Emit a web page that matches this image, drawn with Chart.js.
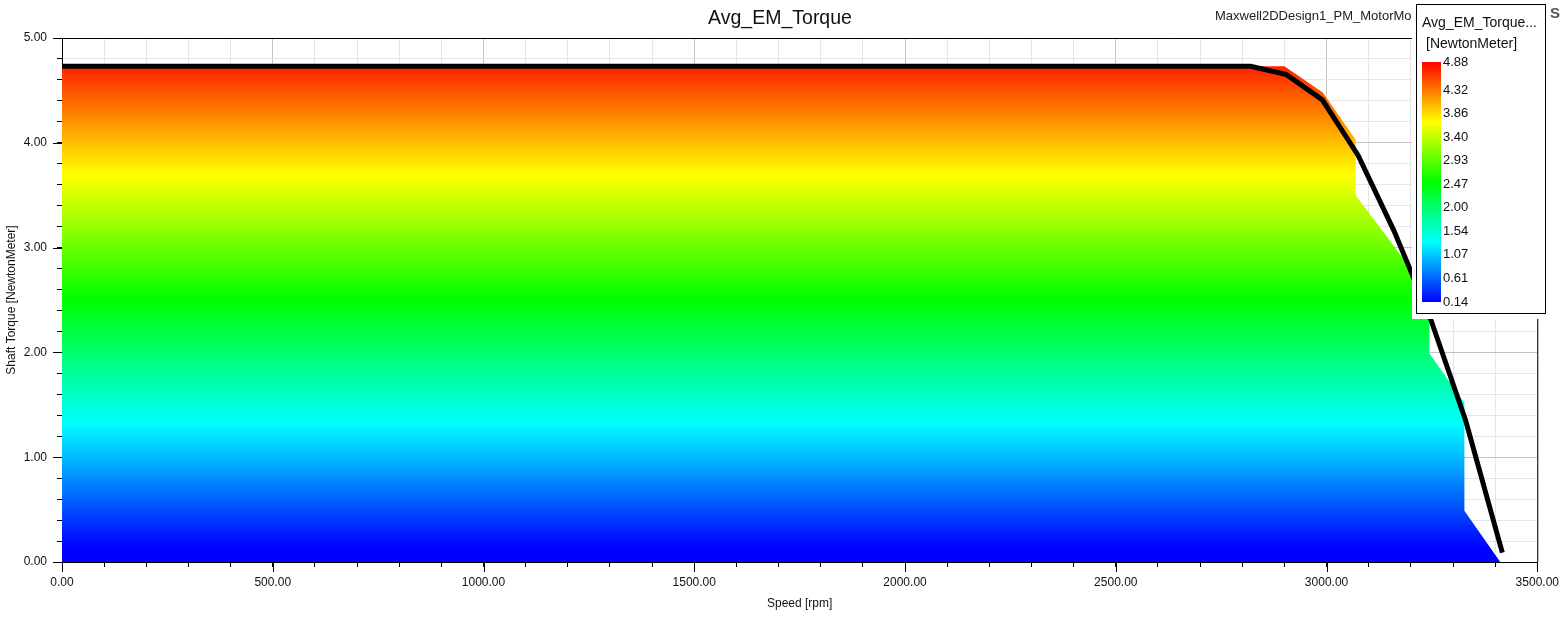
<!DOCTYPE html>
<html>
<head>
<meta charset="utf-8">
<script src="https://cdn.jsdelivr.net/npm/chart.js@4"></script>
<style>
  html, body { margin: 0; padding: 0; background: #fff; }
  #wrap { width: 1567px; height: 619px; }
</style>
</head>
<body>
<div id="wrap"><canvas id="torque-graph" width="1567" height="619"></canvas></div>
<script>
// torque/speed curve (black line)
const curveSpeed = [0, 2820, 2905, 2990, 3075, 3160, 3245, 3330, 3417];
const curveTorque = [4.73, 4.73, 4.65, 4.41, 3.88, 3.16, 2.34, 1.35, 0.09];

// contour fill outline (coloured area)
const fillSpeed = [0, 2900, 2991, 3069, 3069, 3185, 3244, 3244, 3327, 3327, 3412];
const fillTorque = [4.73, 4.73, 4.48, 4.03, 3.50, 2.88, 2.36, 1.99, 1.52, 0.49, 0.0];

// colour bar
const legendTicks = [4.88, 4.32, 3.86, 3.40, 2.93, 2.47, 2.00, 1.54, 1.07, 0.61, 0.14];
const legendMin = 0.14;
const legendMax = 4.88;
const rainbow = ['#0000ff', '#00ffff', '#00ff00', '#ffff00', '#ff0000'];

const FONT = "'Liberation Sans', Arial, sans-serif";

function toPoints(xs, ys) {
  return xs.map((x, i) => ({ x: x, y: ys[i] }));
}

function isWhole(v, step) {
  const r = v / step;
  return Math.abs(r - Math.round(r)) < 1e-6;
}

function contourFill(context) {
  const chart = context.chart;
  const area = chart.chartArea;
  if (!area) return 'rgba(0,0,0,0)';
  const y = chart.scales.y;
  const top = y.getPixelForValue(legendMax);
  const bottom = y.getPixelForValue(legendMin);
  const g = chart.ctx.createLinearGradient(0, bottom, 0, top);
  rainbow.forEach((c, i) => g.addColorStop(i / (rainbow.length - 1), c));
  return g;
}

const frame = {
  id: 'frame',
  afterDraw(chart) {
    const ctx = chart.ctx;
    const a = chart.chartArea;
    const xs = chart.scales.x;
    const ys = chart.scales.y;
    ctx.save();
    ctx.strokeStyle = '#000';
    ctx.lineWidth = 1;
    // top and right border
    ctx.beginPath();
    ctx.moveTo(a.left, a.top + 0.5);
    ctx.lineTo(a.right + 0.5, a.top + 0.5);
    ctx.lineTo(a.right + 0.5, a.bottom);
    ctx.stroke();
    // longer major ticks
    ctx.beginPath();
    xs.ticks.forEach(t => {
      if (!isWhole(t.value, 500)) return;
      const px = Math.round(xs.getPixelForValue(t.value)) + 0.5;
      ctx.moveTo(px, a.bottom);
      ctx.lineTo(px, a.bottom + 10);
    });
    ys.ticks.forEach(t => {
      if (!isWhole(t.value, 1)) return;
      const py = Math.round(ys.getPixelForValue(t.value)) + 0.5;
      ctx.moveTo(a.left - 9, py);
      ctx.lineTo(a.left, py);
    });
    ctx.stroke();

    // subtitle, partly hidden under the colour bar box
    ctx.fillStyle = '#222';
    ctx.font = '13px ' + FONT;
    ctx.textBaseline = 'middle';
    ctx.textAlign = 'left';
    ctx.fillText('Maxwell2DDesign1_PM_MotorModel', 1215, 16);

    // colour bar box
    ctx.fillStyle = '#fff';
    ctx.fillRect(1412, 0, 137, 319);
    ctx.strokeRect(1416.5, 4.5, 129, 309);

    ctx.fillStyle = '#111';
    ctx.font = '14px ' + FONT;
    ctx.fillText('Avg_EM_Torque...', 1422, 23);
    ctx.fillText('[NewtonMeter]', 1426, 44);

    const barTop = 62, barBottom = 302, barLeft = 1422, barW = 19;
    const g = ctx.createLinearGradient(0, barBottom, 0, barTop);
    rainbow.forEach((c, i) => g.addColorStop(i / (rainbow.length - 1), c));
    ctx.fillStyle = g;
    ctx.fillRect(barLeft, barTop, barW, barBottom - barTop);

    ctx.fillStyle = '#111';
    ctx.font = '13px ' + FONT;
    legendTicks.forEach(v => {
      const py = barBottom - (v - legendMin) / (legendMax - legendMin) * (barBottom - barTop);
      ctx.fillText(v.toFixed(2), barLeft + barW + 2, py);
    });

    ctx.fillStyle = '#555';
    ctx.font = 'bold 15px ' + FONT;
    ctx.fillText('S', 1550, 14);
    ctx.restore();
  }
};

const ctx = document.getElementById('torque-graph').getContext('2d');

const config = {
  type: 'line',
  data: {
    datasets: [{
      label: 'Shaft Torque',
      data: toPoints(curveSpeed, curveTorque),
      borderColor: '#000',
      borderWidth: 5,
      borderCapStyle: 'butt',
      borderJoinStyle: 'miter',
      pointRadius: 0,
      tension: 0,
      fill: false
    }, {
      label: 'Avg_EM_Torque',
      data: toPoints(fillSpeed, fillTorque),
      borderWidth: 0,
      borderColor: 'rgba(0,0,0,0)',
      backgroundColor: contourFill,
      pointRadius: 0,
      tension: 0,
      fill: 'origin'
    }]
  },
  options: {
    responsive: false,
    animation: false,
    layout: { padding: { top: 0, right: 7, bottom: 0, left: 0 } },
    plugins: {
      legend: { display: false },
      tooltip: { enabled: false },
      title: {
        display: true,
        text: 'Avg_EM_Torque',
        color: '#111',
        font: { family: FONT, size: 19.5, weight: 'normal' },
        padding: { top: 7, bottom: 7.6 }
      }
    },
    scales: {
      x: {
        type: 'linear',
        min: 0,
        max: 3500,
        afterFit(scale) { scale.height = 57; },
        border: { color: '#000', width: 1 },
        grid: {
          color: c => isWhole(c.tick.value, 500) ? '#c4c4c4' : '#e6e6e6',
          tickColor: '#000',
          tickLength: 5
        },
        ticks: {
          stepSize: 100,
          autoSkip: false,
          maxRotation: 0,
          padding: 8,
          color: '#111',
          font: { family: FONT, size: 12 },
          callback: v => isWhole(v, 500) ? v.toFixed(2) : ''
        },
        title: {
          display: true,
          text: 'Speed [rpm]',
          color: '#111',
          font: { family: FONT, size: 12 },
          padding: { top: 4, bottom: 8 }
        }
      },
      y: {
        type: 'linear',
        min: 0,
        max: 5,
        afterFit(scale) { scale.width = 62; },
        border: { color: '#000', width: 1 },
        grid: {
          color: c => isWhole(c.tick.value, 1) ? '#c4c4c4' : '#e6e6e6',
          tickColor: '#000',
          tickLength: 5
        },
        ticks: {
          stepSize: 0.2,
          autoSkip: false,
          padding: 10,
          color: '#111',
          font: { family: FONT, size: 12 },
          callback: v => isWhole(v, 1) ? v.toFixed(2) : ''
        },
        title: {
          display: true,
          text: 'Shaft Torque [NewtonMeter]',
          color: '#111',
          font: { family: FONT, size: 12 },
          padding: { top: 4, bottom: 4 }
        }
      },
      // empty right-hand axis that only reserves the margin right of the plot
      spacer: {
        type: 'linear',
        position: 'right',
        display: true,
        afterFit(scale) { scale.width = 22; },
        border: { display: false },
        grid: { display: false, drawTicks: false },
        ticks: { display: false }
      }
    }
  },
  plugins: [frame]
};

const torqueChart = new Chart(ctx, config);
</script>
</body>
</html>
